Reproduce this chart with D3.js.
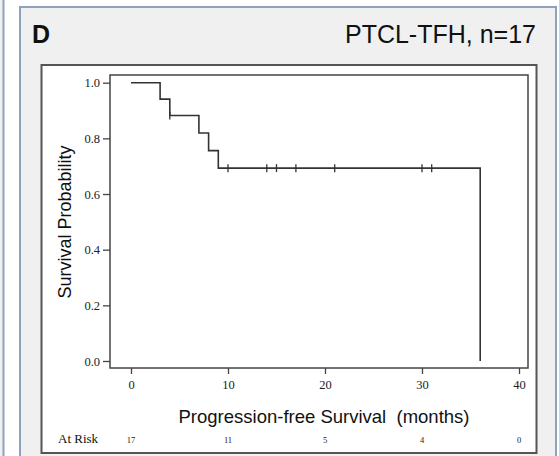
<!DOCTYPE html>
<html>
<head>
<meta charset="utf-8">
<script src="https://cdn.jsdelivr.net/npm/d3@7"></script>
<style>
  html, body { margin: 0; padding: 0; background: #fff; }
  svg { display: block; }
</style>
</head>
<body>
<svg id="chart" width="559" height="456"></svg>
<script>
// KM step curve: time at which each level starts, and the level
const stepTimes = [0, 3, 4, 7, 8, 9, 36];
const survival = [1.0, 0.941, 0.882, 0.819, 0.756, 0.693, 0.0];
const censorTimes = [4, 10, 14, 15, 17, 21, 30, 31];
const xTicks = [0, 10, 20, 30, 40];
const yTicks = [0, 0.2, 0.4, 0.6, 0.8, 1.0];
const atRiskTimes = [0, 10, 20, 30, 40];
const atRisk = [17, 11, 5, 4, 0];

const svg = d3.select("#chart");
const blue = "#8fa2bd";

// side strip and panel
svg.append("rect").attr("x", -10).attr("y", -10).attr("width", 13.5).attr("height", 480)
  .attr("fill", "#f0f0f0").attr("stroke", blue).attr("stroke-width", 2);
svg.append("rect").attr("x", 20).attr("y", 7).attr("width", 536).attr("height", 470)
  .attr("fill", "#f0f0f0").attr("stroke", blue).attr("stroke-width", 2);

svg.append("text").attr("x", 32).attr("y", 43)
  .attr("font-family", "Liberation Sans, Arial, sans-serif").attr("font-weight", "bold")
  .attr("font-size", 25).attr("fill", "#111").text("D");
svg.append("text").attr("x", 536).attr("y", 43).attr("text-anchor", "end")
  .attr("font-family", "Liberation Sans, Arial, sans-serif")
  .attr("font-size", 25).attr("fill", "#111").text("PTCL-TFH, n=17");

// white chart frame
svg.append("rect").attr("x", 41.5).attr("y", 65).attr("width", 495).attr("height", 388)
  .attr("fill", "#fff").attr("stroke", "#555").attr("stroke-width", 2);

const box = { left: 110, right: 528, top: 75, bottom: 368 };
const x = d3.scaleLinear().domain([0, 40]).range([131, 519]);
const y = d3.scaleLinear().domain([0, 1]).range([361, 82.7]);

svg.append("rect").attr("x", box.left).attr("y", box.top)
  .attr("width", box.right - box.left).attr("height", box.bottom - box.top)
  .attr("fill", "none").attr("stroke", "#444").attr("stroke-width", 1.5);

const serif = "Liberation Serif, Times New Roman, serif";

const yAxis = svg.append("g").attr("transform", `translate(${box.left},0)`)
  .call(d3.axisLeft(y).tickValues(yTicks).tickFormat(d3.format(".1f")).tickSize(7).tickPadding(3));
yAxis.select(".domain").remove();
yAxis.selectAll("line").attr("stroke", "#444").attr("stroke-width", 1.3);
yAxis.selectAll("text").attr("font-family", serif).attr("font-size", 12.5).attr("fill", "#222");

const xAxis = svg.append("g").attr("transform", `translate(0,${box.bottom})`)
  .call(d3.axisBottom(x).tickValues(xTicks).tickFormat(d3.format("d")).tickSize(6).tickPadding(6));
xAxis.select(".domain").remove();
xAxis.selectAll("line").attr("stroke", "#444").attr("stroke-width", 1.3);
xAxis.selectAll("text").attr("font-family", serif).attr("font-size", 12.5).attr("fill", "#222");

// survival curve
const pts = stepTimes.map((t, i) => [t, survival[i]]);
const line = d3.line().x(d => x(d[0])).y(d => y(d[1])).curve(d3.curveStepAfter);
svg.append("path").attr("d", line(pts)).attr("fill", "none")
  .attr("stroke", "#333").attr("stroke-width", 1.6);

function survAt(t) {
  let s = 1;
  stepTimes.forEach((st, i) => { if (st <= t) s = survival[i]; });
  return s;
}
svg.append("g").selectAll("line").data(censorTimes).join("line")
  .attr("x1", d => x(d)).attr("x2", d => x(d))
  .attr("y1", d => y(survAt(d)) - 4).attr("y2", d => y(survAt(d)) + 4)
  .attr("stroke", "#333").attr("stroke-width", 1.3);

// axis titles
svg.append("text")
  .attr("transform", `translate(71,222) rotate(-90)`)
  .attr("text-anchor", "middle")
  .attr("font-family", "Liberation Sans, Arial, sans-serif")
  .attr("font-size", 18).attr("fill", "#111").text("Survival Probability");
svg.append("text").attr("x", 324).attr("y", 423).attr("text-anchor", "middle")
  .style("white-space", "pre")
  .attr("font-family", "Liberation Sans, Arial, sans-serif")
  .attr("font-size", 18.5).attr("fill", "#111").text("Progression-free Survival  (months)");

// at risk row
svg.append("text").attr("x", 58).attr("y", 443)
  .attr("font-family", serif).attr("font-size", 13).attr("fill", "#111").text("At Risk");
svg.append("g").selectAll("text").data(atRiskTimes).join("text")
  .attr("x", d => x(d)).attr("y", 443).attr("text-anchor", "middle")
  .attr("font-family", serif).attr("font-size", 8.5).attr("fill", "#222")
  .text((d, i) => atRisk[i]);
</script>
</body>
</html>
